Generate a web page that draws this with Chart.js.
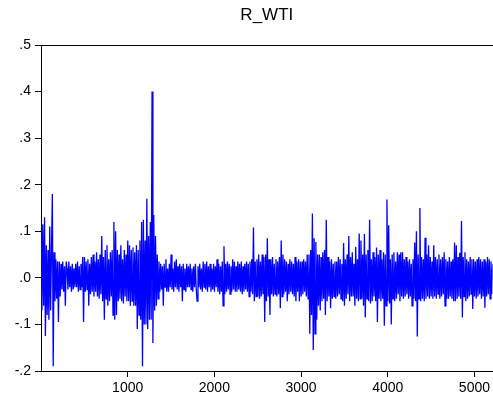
<!DOCTYPE html>
<html>
<head>
<meta charset="utf-8">
<script src="https://cdn.jsdelivr.net/npm/chart.js@4.4.1/dist/chart.umd.min.js"></script>
<style>
html,body{margin:0;padding:0;background:#ffffff;}
#c{display:block;}
</style>
</head>
<body>
<canvas id="c" width="493" height="400"></canvas>
<script>
const chartTitle = "R_WTI";
const obsStart = 1;
const obsStep = 10;
const rWti = [
 0.10,-0.07,0.115,-0.06,0.13,-0.125,0.07,-0.08,0.06,-0.09,
 0.11,-0.07,0.06,0.18,-0.19,0.055,-0.05,0.04,-0.045,0.035,
 -0.095,0.035,-0.04,0.03,-0.025,0.035,-0.03,0.025,-0.06,0.035,
 0.02,-0.025,0.035,-0.02,0.025,-0.03,0.03,-0.025,0.02,-0.02,
 0.03,-0.02,0.035,-0.03,0.025,-0.025,0.03,-0.02,0.045,-0.095,
 0.045,-0.03,0.035,-0.025,0.04,-0.06,0.03,-0.035,0.045,-0.03,
 0.05,-0.04,0.035,-0.03,0.055,-0.04,0.04,-0.045,0.05,-0.035,
 0.09,-0.05,0.045,-0.09,0.06,-0.045,0.07,-0.06,0.04,-0.05,
 0.055,-0.04,0.06,-0.08,0.12,-0.09,0.10,-0.08,0.06,-0.05,
 0.05,-0.045,0.07,-0.05,0.04,-0.055,0.06,-0.04,0.05,-0.05,
 0.08,-0.05,0.07,-0.06,0.06,-0.05,0.065,-0.06,0.055,-0.06,
 0.07,-0.11,0.06,-0.08,0.08,-0.09,0.12,-0.19,0.125,-0.10,
 0.08,-0.10,0.17,-0.11,0.09,-0.09,0.12,-0.09,0.40,-0.14,
 0.135,-0.07,0.09,-0.06,0.05,-0.045,0.035,-0.03,0.03,-0.025,
 0.025,-0.06,0.03,-0.02,0.04,-0.03,0.02,-0.03,0.03,-0.02,
 0.05,-0.025,0.02,-0.03,0.035,-0.02,0.04,-0.025,0.025,-0.03,
 0.03,-0.02,0.025,-0.05,0.03,-0.025,0.02,-0.03,0.03,-0.02,
 0.025,-0.02,0.03,-0.025,0.02,-0.03,0.025,-0.02,0.03,-0.025,
 -0.05,0.025,-0.02,0.03,-0.025,0.02,-0.03,0.035,-0.02,0.03,
 -0.025,0.035,-0.03,0.025,-0.02,0.03,-0.03,0.02,-0.025,0.03,
 -0.03,0.025,-0.02,0.04,-0.03,0.03,-0.035,0.025,-0.03,0.035,
 -0.06,0.068,-0.035,0.03,-0.03,0.035,-0.025,0.03,-0.035,0.025,
 -0.03,0.04,-0.025,0.035,-0.03,0.025,-0.03,0.035,-0.025,0.03,
 -0.03,0.035,-0.035,0.025,-0.03,0.03,-0.025,0.035,-0.03,0.03,
 -0.04,0.035,-0.03,0.04,-0.035,0.108,-0.05,0.035,-0.04,0.04,
 -0.04,0.05,-0.045,0.035,-0.04,0.05,-0.035,0.045,-0.095,0.05,
 -0.05,0.085,-0.04,0.04,-0.08,0.04,-0.035,0.045,-0.04,0.03,
 -0.035,0.04,-0.04,0.035,-0.035,0.045,-0.065,0.08,-0.04,0.05,
 -0.035,0.04,-0.03,0.035,-0.05,0.03,-0.035,0.04,-0.03,0.035,
 -0.035,0.03,-0.04,0.045,-0.05,0.035,-0.03,0.04,-0.05,0.035,
 -0.04,0.035,-0.035,0.04,-0.03,0.035,-0.04,0.05,-0.045,0.05,
 -0.12,0.06,-0.08,0.138,-0.155,0.085,-0.12,0.077,-0.09,0.05,
 -0.06,0.05,-0.07,0.045,-0.05,0.055,-0.045,0.06,-0.08,0.125,
 -0.05,0.045,-0.04,0.035,-0.065,0.04,-0.045,0.03,-0.04,0.035,
 -0.045,0.035,-0.04,0.045,-0.035,0.04,-0.045,0.03,-0.05,0.075,
 -0.06,0.04,-0.045,0.05,-0.035,0.09,-0.05,0.045,-0.04,0.055,
 -0.04,0.03,-0.06,0.066,-0.045,0.04,-0.05,0.095,-0.045,0.08,
 -0.045,0.05,-0.06,0.094,-0.085,0.05,-0.045,0.06,-0.05,0.125,
 -0.055,0.04,-0.05,0.055,-0.04,0.045,-0.05,0.065,-0.095,0.05,
 -0.045,0.06,-0.05,0.04,-0.045,0.055,-0.103,0.05,-0.06,0.168,
 -0.05,0.113,-0.055,0.04,-0.10,0.05,-0.045,0.055,-0.05,0.035,
 -0.045,0.055,-0.035,0.05,-0.05,0.055,-0.04,0.055,-0.045,0.04,
 -0.04,0.045,-0.035,0.035,-0.045,0.04,-0.04,0.03,-0.06,0.04,
 -0.045,0.076,-0.05,0.10,-0.126,0.05,-0.045,0.15,-0.05,0.045,
 -0.045,0.04,-0.05,0.086,-0.045,0.05,-0.04,0.07,-0.045,0.045,
 -0.04,0.035,-0.045,0.07,-0.04,0.045,-0.045,0.04,-0.035,0.05,
 -0.045,0.04,-0.04,0.045,-0.035,0.055,-0.06,0.04,-0.045,0.035,
 -0.045,0.045,-0.04,0.035,-0.045,0.04,-0.05,0.076,-0.05,0.07,
 -0.045,0.045,-0.04,0.054,-0.045,0.122,-0.085,0.045,-0.04,0.055,
 -0.05,0.04,-0.045,0.035,-0.04,0.045,-0.035,0.04,-0.067,0.04,
 -0.04,0.035,-0.045,0.04,-0.04,0.045,-0.035,0.04,-0.045,0.035,
 -0.04,0.04,-0.064,0.035,-0.04,0.045,-0.035,0.04,-0.045,0.035,
 -0.035,0.03
];
const xTickValues = [1000, 2000, 3000, 4000, 5000];
const yTickValues = [0.5, 0.4, 0.3, 0.2, 0.1, 0.0, -0.1, -0.2];
const yTickLabels = [".5", ".4", ".3", ".2", ".1", ".0", "-.1", "-.2"];
const xMin = 0, xMax = 5210, yMin = -0.2, yMax = 0.5;

const points = rWti.map((v, i) => ({ x: obsStart + i * obsStep, y: v }));

const topBorder = {
  id: 'topBorder',
  afterDraw(chart) {
    const { ctx, chartArea } = chart;
    ctx.save();
    ctx.strokeStyle = '#000000';
    ctx.lineWidth = 1;
    ctx.beginPath();
    ctx.moveTo(chartArea.left, chartArea.top + 0.5);
    ctx.lineTo(chart.width, chartArea.top + 0.5);
    ctx.stroke();
    ctx.restore();
  }
};

new Chart(document.getElementById('c'), {
  type: 'line',
  data: {
    datasets: [{
      data: points,
      borderColor: '#0000ff',
      borderWidth: 1.3,
      pointRadius: 0,
      tension: 0,
      fill: false
    }]
  },
  options: {
    responsive: false,
    animation: false,
    layout: { padding: 0 },
    plugins: {
      legend: { display: false },
      tooltip: { enabled: false },
      title: {
        display: true,
        text: chartTitle,
        fullSize: false,
        align: 'center',
        color: '#000000',
        font: { family: "'Liberation Sans', Arial, sans-serif", size: 17, weight: 'normal', lineHeight: 1.2 },
        padding: { top: 5, bottom: 19.6 }
      }
    },
    scales: {
      x: {
        type: 'linear',
        min: xMin,
        max: xMax,
        afterBuildTicks: (s) => { s.ticks = xTickValues.map(v => ({ value: v })); },
        afterFit: (s) => { s.height = 29; },
        ticks: {
          color: '#000000',
          font: { family: "'Liberation Sans', Arial, sans-serif", size: 14 },
          maxRotation: 0,
          autoSkip: false,
          padding: 3,
          callback: (v) => String(v)
        },
        grid: { display: true, drawOnChartArea: false, drawTicks: true, tickLength: 6, color: '#000000', lineWidth: 1 },
        border: { display: true, color: '#000000', width: 1 }
      },
      y: {
        min: yMin,
        max: yMax,
        afterBuildTicks: (s) => { s.ticks = yTickValues.map(v => ({ value: v })); },
        afterFit: (s) => { s.width = 41; },
        ticks: {
          color: '#000000',
          font: { family: "'Liberation Sans', Arial, sans-serif", size: 14 },
          autoSkip: false,
          padding: 4,
          callback: (v) => {
            const k = yTickValues.findIndex(t => Math.abs(t - v) < 1e-9);
            return k >= 0 ? yTickLabels[k] : '';
          }
        },
        grid: { display: true, drawOnChartArea: false, drawTicks: true, tickLength: 6, color: '#000000', lineWidth: 1 },
        border: { display: true, color: '#000000', width: 1 }
      }
    }
  },
  plugins: [topBorder]
});
</script>
</body>
</html>
